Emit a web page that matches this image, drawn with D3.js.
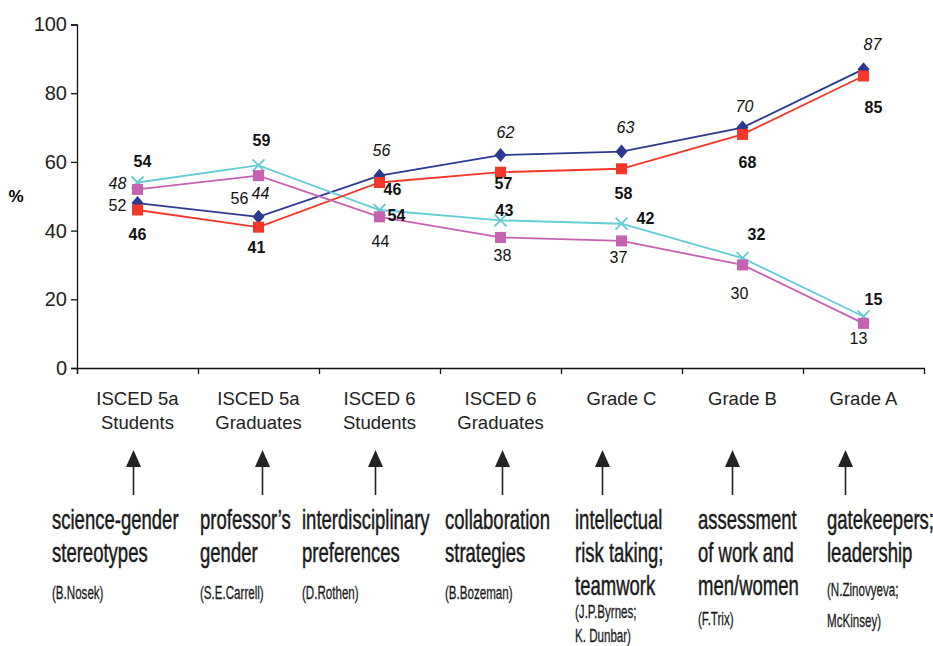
<!DOCTYPE html>
<html>
<head>
<meta charset="utf-8">
<script src="https://cdn.jsdelivr.net/npm/d3@7"></script>
<style>
  body { margin: 0; background: #fff; }
  text { font-family: "Liberation Sans", Arial, sans-serif; }
</style>
</head>
<body>
<div id="chart"></div>
<script>

// Categories (two-line axis labels)
var categories = ["ISCED 5a Students", "ISCED 5a Graduates", "ISCED 6 Students", "ISCED 6 Graduates", "Grade C", "Grade B", "Grade A"];
var categoryLines = [["ISCED 5a", "Students"], ["ISCED 5a", "Graduates"], ["ISCED 6", "Students"], ["ISCED 6", "Graduates"], ["Grade C"], ["Grade B"], ["Grade A"]];
var yTicks = [0, 20, 40, 60, 80, 100];

// Series values (as plotted) and the labels printed next to them
var navyValues = [48, 44, 56, 62, 63, 70, 87];
var navyLabels = ["48", "44", "56", "62", "63", "70", "87"];
var redValues = [46, 41, 54, 57, 58, 68, 85];
var redLabels = ["46", "41", "46", "57", "58", "68", "85"];
var cyanValues = [54, 59, 46, 43, 42, 32, 15];
var cyanLabels = ["54", "59", "54", "43", "42", "32", "15"];
var pinkValues = [52, 56, 44, 38, 37, 30, 13];
var pinkLabels = ["52", "56", "44", "38", "37", "30", "13"];

// Annotations under each category
var annotations = [
  {main: ["science-gender", "stereotypes"], cite: ["(B.Nosek)"]},
  {main: ["professor\u2019s", "gender"], cite: ["(S.E.Carrell)"]},
  {main: ["interdisciplinary", "preferences"], cite: ["(D.Rothen)"]},
  {main: ["collaboration", "strategies"], cite: ["(B.Bozeman)"]},
  {main: ["intellectual", "risk taking;", "teamwork"], cite: ["(J.P.Byrnes;", "K. Dunbar)"]},
  {main: ["assessment", "of work and", "men/women"], cite: ["(F.Trix)"]},
  {main: ["gatekeepers;", "leadership"], cite: ["(N.Zinovyeva;", "McKinsey)"]}
];

var W = 933, H = 646;
var svg = d3.select("#chart").append("svg")
  .attr("width", W)
  .attr("height", H);

var x = d3.scaleBand().domain(categories).range([77, 924]).paddingInner(0).paddingOuter(0);
var xEdge = d3.scaleLinear().domain([0, categories.length]).range(x.range());
var y = d3.scaleLinear().domain([0, 100]).range([368, 24.5]);
function cx(i) { return x(categories[i]) + x.bandwidth() / 2; }

// Y axis
var yAxis = svg.append("g")
  .attr("transform", "translate(77,0)")
  .call(d3.axisLeft(y).tickValues(yTicks).tickSize(6).tickPadding(4));
yAxis.selectAll("text").style("font-size", "20px").attr("fill", "#222");
yAxis.selectAll("line, path").attr("stroke", "#111").attr("stroke-width", 1.3);

// X axis: ticks at band edges, labels drawn separately
var xAxis = svg.append("g")
  .attr("transform", "translate(0,368)")
  .call(d3.axisBottom(xEdge).tickValues(d3.range(0, categories.length)).tickSize(6).tickFormat(""));
xAxis.selectAll("line, path").attr("stroke", "#111").attr("stroke-width", 1.3);

categoryLines.forEach(function(lines, i) {
  var t = svg.append("text")
    .attr("x", cx(i))
    .attr("y", 405)
    .attr("text-anchor", "middle")
    .style("font-size", "18.5px")
    .attr("fill", "#222");
  lines.forEach(function(l, j) {
    t.append("tspan").attr("x", cx(i)).attr("dy", j === 0 ? 0 : 23.5).text(l);
  });
});

svg.append("text")
  .attr("x", 16).attr("y", 202)
  .attr("text-anchor", "middle")
  .style("font-size", "17px")
  .style("font-weight", "bold")
  .text("%");

// Lines
var series = [
  {values: navyValues, color: "#2b3990", marker: "diamond"},
  {values: cyanValues, color: "#62cdd5", marker: "cross"},
  {values: redValues, color: "#f5372a", marker: "square"},
  {values: pinkValues, color: "#c762b3", marker: "square"}
];

var line = d3.line()
  .x(function(d, i) { return cx(i); })
  .y(function(d) { return y(d); });

series.forEach(function(s) {
  svg.append("path")
    .datum(s.values)
    .attr("fill", "none")
    .attr("stroke", s.color)
    .attr("stroke-width", 1.8)
    .attr("d", line);
});

series.forEach(function(s) {
  s.values.forEach(function(v, i) {
    var px = cx(i), py = y(v);
    if (s.marker === "diamond") {
      svg.append("path")
        .attr("d", "M0,-7L6,0L0,7L-6,0Z")
        .attr("transform", "translate(" + px + "," + py + ")")
        .attr("fill", s.color);
    } else if (s.marker === "square") {
      svg.append("rect")
        .attr("x", px - 5.5).attr("y", py - 5.5)
        .attr("width", 11).attr("height", 11)
        .attr("fill", s.color);
    } else {
      svg.append("path")
        .attr("d", "M-6,-6L6,6M-6,6L6,-6")
        .attr("transform", "translate(" + px + "," + py + ")")
        .attr("stroke", s.color)
        .attr("stroke-width", 1.8);
    }
  });
});

// Value labels: offsets from the point (layout only)
var navyOff = [[-20, -14], [2, -18], [2, -20], [5, -17], [4, -19], [2, -16], [9, -19]];
var redOff = [[0, 30], [-2, 26], [13, 12], [3, 17], [2, 30], [5, 34], [10, 37]];
var cyanOff = [[5, -16], [3, -19], [17, 11], [4, -4], [24, 0], [14, -18], [10, -11]];
var pinkOff = [[-20, 22], [-19, 28], [1, 30], [2, 24], [-3, 22], [-3, 34], [-5, 21]];

function addLabels(values, labels, off, style, weight) {
  values.forEach(function(v, i) {
    svg.append("text")
      .attr("x", cx(i) + off[i][0])
      .attr("y", y(v) + off[i][1])
      .attr("text-anchor", "middle")
      .style("font-size", "16px")
      .style("font-style", style)
      .style("font-weight", weight)
      .attr("fill", "#111")
      .text(labels[i]);
  });
}
addLabels(navyValues, navyLabels, navyOff, "italic", "normal");
addLabels(redValues, redLabels, redOff, "normal", "bold");
addLabels(cyanValues, cyanLabels, cyanOff, "normal", "bold");
addLabels(pinkValues, pinkLabels, pinkOff, "normal", "normal");

// Arrows and annotation text
var arrowShift = [-4, 4, -4, 2, -19, -10, -18];
var textLeft = [52, 200, 302, 445, 575, 698, 827];
var citeGap = [37, 37, 37, 37, 23, 30, 34];
var citeStep = [31, 31, 31, 31, 24, 31, 31];

annotations.forEach(function(a, i) {
  var ax = cx(i) + arrowShift[i];
  svg.append("line")
    .attr("x1", ax).attr("x2", ax)
    .attr("y1", 495).attr("y2", 464)
    .attr("stroke", "#222").attr("stroke-width", 1.6);
  svg.append("path")
    .attr("d", "M" + ax + ",450L" + (ax + 7.5) + ",467L" + (ax - 7.5) + ",467Z")
    .attr("fill", "#222");

  var baseY = 529;
  a.main.forEach(function(l, j) {
    svg.append("text")
      .attr("transform", "translate(" + textLeft[i] + "," + (baseY + j * 33) + ") scale(0.65,1)")
      .style("font-size", "28.5px")
      .attr("fill", "#1a1a1a")
      .attr("stroke", "#1a1a1a")
      .attr("stroke-width", 0.5)
      .text(l);
  });
  var cy0 = baseY + (a.main.length - 1) * 33 + citeGap[i];
  a.cite.forEach(function(l, j) {
    svg.append("text")
      .attr("transform", "translate(" + textLeft[i] + "," + (cy0 + j * citeStep[i]) + ") scale(0.61,1)")
      .style("font-size", "19px")
      .attr("fill", "#1a1a1a")
      .attr("stroke", "#1a1a1a")
      .attr("stroke-width", 0.3)
      .text(l);
  });
});

</script>
</body>
</html>
